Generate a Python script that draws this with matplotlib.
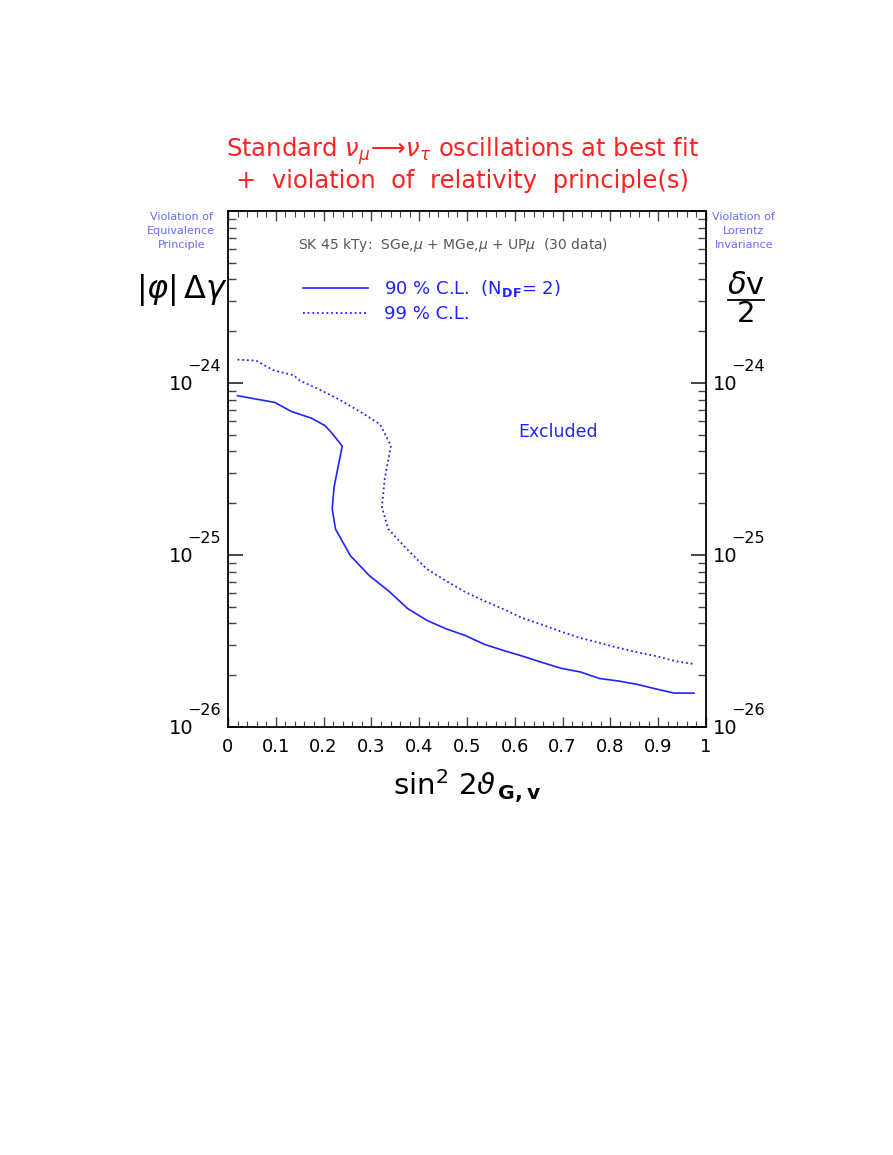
import matplotlib
matplotlib.use("Agg")
import matplotlib.pyplot as plt
from matplotlib.lines import Line2D
from matplotlib.ticker import FixedLocator, MultipleLocator, NullFormatter, LogLocator

# 90% C.L. contour (solid)
cl90_x = [0.02, 0.098, 0.133, 0.175, 0.203, 0.217, 0.239, 0.222, 0.218, 0.225,
          0.256, 0.296, 0.336, 0.376, 0.416, 0.456, 0.496, 0.536, 0.577, 0.617,
          0.656, 0.697, 0.737, 0.777, 0.817, 0.857, 0.897, 0.933, 0.975]
cl90_log = [-24.074, -24.113, -24.166, -24.205, -24.248, -24.29, -24.367, -24.604, -24.731, -24.85,
            -25.004, -25.121, -25.209, -25.312, -25.380, -25.429, -25.468, -25.519, -25.556, -25.589,
            -25.624, -25.659, -25.680, -25.718, -25.733, -25.753, -25.780, -25.803, -25.803]

# 99% C.L. contour (dotted)
cl99_x = [0.02, 0.059, 0.095, 0.137, 0.151, 0.192, 0.234, 0.276, 0.318, 0.341,
          0.328, 0.322, 0.335, 0.374, 0.416, 0.456, 0.496, 0.536, 0.577, 0.617,
          0.656, 0.697, 0.737, 0.777, 0.817, 0.857, 0.897, 0.937, 0.975]
cl99_log = [-23.864, -23.870, -23.926, -23.955, -23.987, -24.039, -24.098, -24.166, -24.240, -24.364,
            -24.556, -24.721, -24.848, -24.965, -25.082, -25.150, -25.215, -25.267, -25.316, -25.368,
            -25.404, -25.446, -25.482, -25.511, -25.540, -25.566, -25.589, -25.618, -25.634]

xtick_vals = [0, 0.1, 0.2, 0.3, 0.4, 0.5, 0.6, 0.7, 0.8, 0.9, 1]
xtick_labels = ["0", "0.1", "0.2", "0.3", "0.4", "0.5", "0.6", "0.7", "0.8", "0.9", "1"]
ytick_exps = [-26, -25, -24]

blue = "#2222ff"
light_blue = "#6a6aff"
red = "#ff2222"

plt.rcParams["font.family"] = ["DejaVu Sans"]

fig = plt.figure(figsize=(8.93, 11.55), dpi=100)
ax = fig.add_axes([0.2553, 0.3706, 0.5353, 0.4467])

ax.plot(cl90_x, [10 ** v for v in cl90_log], color=blue, lw=1.2,
        label=r"90 % C.L.  (N$_{\mathbf{DF}}$= 2)")
ax.plot(cl99_x, [10 ** v for v in cl99_log], color=blue, lw=1.3,
        linestyle=(0, (1.0, 1.6)), label="99 % C.L.")

ax.set_xlim(0, 1)
ax.set_yscale("log")
ax.set_ylim(1e-26, 1e-23)

ax.xaxis.set_major_locator(FixedLocator(xtick_vals))
ax.set_xticklabels(xtick_labels)
ax.xaxis.set_minor_locator(MultipleLocator(0.02))
ax.yaxis.set_major_locator(LogLocator(base=10, numticks=10))
ax.yaxis.set_minor_locator(LogLocator(base=10, subs=range(2, 10), numticks=10))
ax.yaxis.set_major_formatter(NullFormatter())
ax.yaxis.set_minor_formatter(NullFormatter())

ax.tick_params(which="both", direction="in", top=True, right=True, color="#444444")
ax.tick_params(axis="x", which="major", length=7, width=1, labelsize=13, pad=8)
ax.tick_params(axis="x", which="minor", length=4, width=0.8)
ax.tick_params(axis="y", which="major", length=11, width=1.4)
ax.tick_params(axis="y", which="minor", length=6, width=1)
for sp in ax.spines.values():
    sp.set_linewidth(1.3)

# y tick labels 10^exp on both sides
for e in ytick_exps:
    for xa, off_base, off_exp, ha in [(0, -25, -29, "right"), (1, 5, 18.5, "left")]:
        ax.annotate("10", xy=(xa, 10.0 ** e), xycoords=("axes fraction", "data"),
                    xytext=(off_base, -5), textcoords="offset points",
                    ha=ha, va="baseline", fontsize=14, annotation_clip=False)
        ax.annotate("\u2212" + str(-e), xy=(xa, 10.0 ** e), xycoords=("axes fraction", "data"),
                    xytext=(off_exp, 8.5), textcoords="offset points",
                    ha="left", va="baseline", fontsize=11.5, annotation_clip=False)

ax.legend(loc="upper left", bbox_to_anchor=(0.122, 0.902), frameon=False,
          fontsize=13, labelcolor=blue, handlelength=3.6, handletextpad=0.9,
          labelspacing=0.35)

ax.text(0.47, 0.934, r"SK 45 kTy:  SGe,$\mu$ + MGe,$\mu$ + UP$\mu$  (30 data)",
        transform=ax.transAxes, ha="center", va="center", fontsize=10, color="#555555")
ax.text(0.69, 0.572, "Excluded", transform=ax.transAxes, ha="center", va="center",
        fontsize=12.5, color=blue)

ax.set_xlabel(r"sin$^2$ 2$\vartheta_{\,\mathbf{G,v}}$", fontsize=21, labelpad=8)

# titles
fig.text(0.518, 0.869, r"Standard $\nu_\mu\!\longrightarrow\!\nu_\tau$ oscillations at best fit",
         ha="center", va="center", fontsize=17.5, color=red)
fig.text(0.518, 0.843, "+  violation  of  relativity  principle(s)",
         ha="center", va="center", fontsize=17.5, color=red)

# side labels
fig.text(0.203, 0.800, "Violation of\nEquivalence\nPrinciple", ha="center", va="center",
         fontsize=8, color=light_blue, linespacing=1.45)
fig.text(0.833, 0.800, "Violation of\nLorentz\nInvariance", ha="center", va="center",
         fontsize=8, color=light_blue, linespacing=1.45)
fig.text(0.204, 0.749, r"$|\varphi|\,\Delta\gamma$", ha="center", va="center", fontsize=23)
fig.text(0.835, 0.753, r"$\delta\mathrm{v}$", ha="center", va="center", fontsize=22)
fig.add_artist(Line2D([0.815, 0.855], [0.740, 0.740], color="black", lw=1.3))
fig.text(0.835, 0.728, "2", ha="center", va="center", fontsize=21)

fig.savefig("out.png", dpi=100)
